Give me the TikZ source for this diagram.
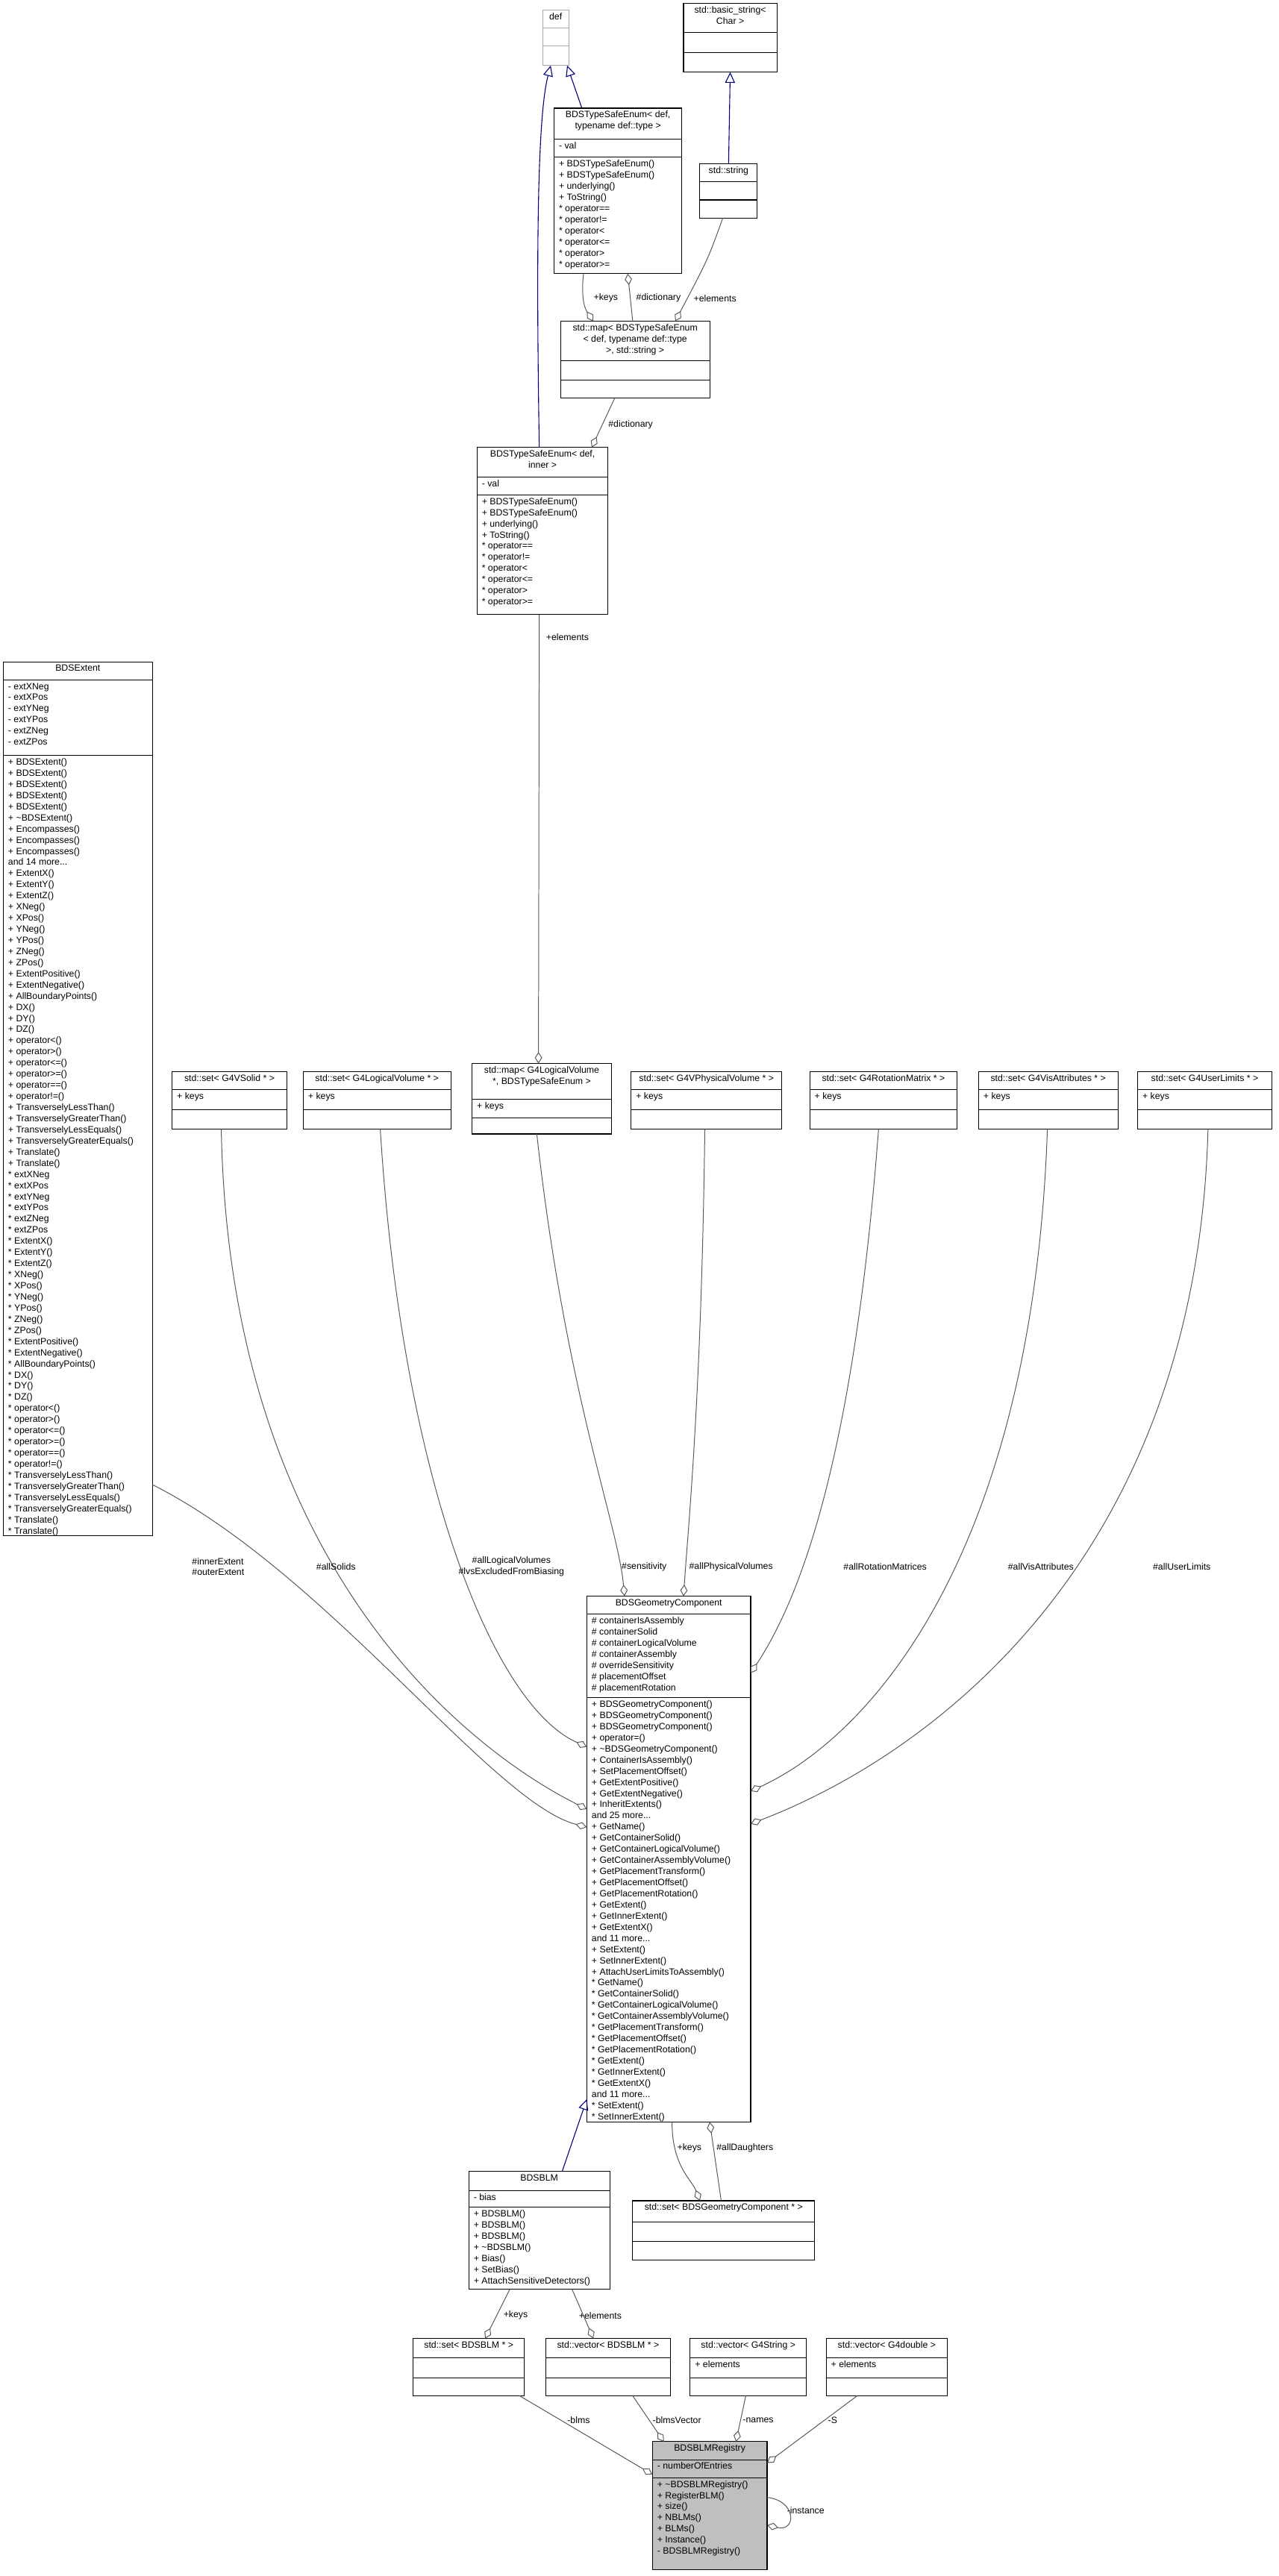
\documentclass[tikz,border=0pt]{standalone}
\usepackage{fontspec}
\setmainfont{Liberation Sans}
\usetikzlibrary{arrows.meta}
\newcommand\bc{black}
\newcommand\classbox[9]{%
 \node[draw=\bc,line width=0.5pt,inner sep=0,outer sep=0,anchor=north west,minimum width={(#3-#2)*1pt},minimum height={(#7-#4)*1pt}] (#1) at (#2,#4) {};
 \draw[draw=\bc,line width=0.5pt] (#2,#5) -- (#3,#5) (#2,#6) -- (#3,#6);
 \node[txt,align=center,anchor=north] (#1-t) at ({(#2+#3)/2},{#4+1.8}) {#8};
 \node[txt,anchor=north west] (#1-a) at ({#2+3},{#5+1.8}) {#9};
 \coordinate (#1-m) at ({#2+3},{#6+1.8});
}
\begin{document}
\begin{tikzpicture}[x=1pt,y=-1pt,
 txt/.style={font=\fontsize{5.6}{6.8}\selectfont,align=left,inner sep=0,outer sep=0},
 lbl/.style={font=\fontsize{5.6}{6.6}\selectfont,inner sep=0,align=center},
 agg/.style={draw=black!65,line width=0.45pt,-{Diamond[open,length=7pt,width=4.5pt]}},
 inh/.style={draw=blue!50!black,line width=0.5pt,-{Triangle[open,length=6.5pt,width=6pt]}}]
\useasboundingbox[fill=white] (0,0) rectangle (780,1572);
% ---- boxes
\renewcommand\bc{black!35}
\classbox{def}{331}{347}{6}{17}{28}{40}{def}{}
\renewcommand\bc{black}
\classbox{bstr}{417}{474}{2}{20}{32}{44}{std::basic\_string\textless\\Char \textgreater}{}
\classbox{tset}{338}{416}{66}{85}{96}{167}{BDSTypeSafeEnum\textless{} def,\\typename def::type \textgreater}{- val}
\node[txt,anchor=north west] at (tset-m) {+ BDSTypeSafeEnum()\\+ BDSTypeSafeEnum()\\+ underlying()\\+ ToString()\\* operator==\\* operator!=\\* operator\textless\\* operator\textless=\\* operator\textgreater\\* operator\textgreater=};
\classbox{sstr}{427}{462}{100}{111}{122}{133}{std::string}{}
\classbox{smap}{342}{433}{196}{220}{232}{243}{std::map\textless{} BDSTypeSafeEnum\\\textless{} def, typename def::type\\\textgreater, std::string \textgreater}{}
\classbox{tinn}{291}{371}{273}{291}{302}{375}{BDSTypeSafeEnum\textless{} def,\\inner \textgreater}{- val}
\node[txt,anchor=north west] at (tinn-m) {+ BDSTypeSafeEnum()\\+ BDSTypeSafeEnum()\\+ underlying()\\+ ToString()\\* operator==\\* operator!=\\* operator\textless\\* operator\textless=\\* operator\textgreater\\* operator\textgreater=};
\classbox{ext}{2}{93}{404}{415}{461}{937}{BDSExtent}{- extXNeg\\- extXPos\\- extYNeg\\- extYPos\\- extZNeg\\- extZPos}
\node[txt,anchor=north west] at (ext-m) {+ BDSExtent()\\+ BDSExtent()\\+ BDSExtent()\\+ BDSExtent()\\+ BDSExtent()\\+ \textasciitilde BDSExtent()\\+ Encompasses()\\+ Encompasses()\\+ Encompasses()\\and 14 more...\\+ ExtentX()\\+ ExtentY()\\+ ExtentZ()\\+ XNeg()\\+ XPos()\\+ YNeg()\\+ YPos()\\+ ZNeg()\\+ ZPos()\\+ ExtentPositive()\\+ ExtentNegative()\\+ AllBoundaryPoints()\\+ DX()\\+ DY()\\+ DZ()\\+ operator\textless()\\+ operator\textgreater()\\+ operator\textless=()\\+ operator\textgreater=()\\+ operator==()\\+ operator!=()\\+ TransverselyLessThan()\\+ TransverselyGreaterThan()\\+ TransverselyLessEquals()\\+ TransverselyGreaterEquals()\\+ Translate()\\+ Translate()\\* extXNeg\\* extXPos\\* extYNeg\\* extYPos\\* extZNeg\\* extZPos\\* ExtentX()\\* ExtentY()\\* ExtentZ()\\* XNeg()\\* XPos()\\* YNeg()\\* YPos()\\* ZNeg()\\* ZPos()\\* ExtentPositive()\\* ExtentNegative()\\* AllBoundaryPoints()\\* DX()\\* DY()\\* DZ()\\* operator\textless()\\* operator\textgreater()\\* operator\textless=()\\* operator\textgreater=()\\* operator==()\\* operator!=()\\* TransverselyLessThan()\\* TransverselyGreaterThan()\\* TransverselyLessEquals()\\* TransverselyGreaterEquals()\\* Translate()\\* Translate()};
\classbox{ssol}{105}{175}{654}{665}{677}{689}{std::set\textless{} G4VSolid * \textgreater}{+ keys}
\classbox{slog}{185}{275}{654}{665}{677}{689}{std::set\textless{} G4LogicalVolume * \textgreater}{+ keys}
\classbox{lmap}{288}{373}{649}{671}{682}{692}{std::map\textless{} G4LogicalVolume\\*, BDSTypeSafeEnum \textgreater}{+ keys}
\classbox{sphy}{385}{477}{654}{665}{677}{689}{std::set\textless{} G4VPhysicalVolume * \textgreater}{+ keys}
\classbox{srot}{494}{584}{654}{665}{677}{689}{std::set\textless{} G4RotationMatrix * \textgreater}{+ keys}
\classbox{svis}{597}{682}{654}{665}{677}{689}{std::set\textless{} G4VisAttributes * \textgreater}{+ keys}
\classbox{sul}{694}{776}{654}{665}{677}{689}{std::set\textless{} G4UserLimits * \textgreater}{+ keys}
\classbox{gc}{358}{458}{974}{985}{1036}{1295}{BDSGeometryComponent}{\# containerIsAssembly\\\# containerSolid\\\# containerLogicalVolume\\\# containerAssembly\\\# overrideSensitivity\\\# placementOffset\\\# placementRotation}
\node[txt,anchor=north west] at (gc-m) {+ BDSGeometryComponent()\\+ BDSGeometryComponent()\\+ BDSGeometryComponent()\\+ operator=()\\+ \textasciitilde BDSGeometryComponent()\\+ ContainerIsAssembly()\\+ SetPlacementOffset()\\+ GetExtentPositive()\\+ GetExtentNegative()\\+ InheritExtents()\\and 25 more...\\+ GetName()\\+ GetContainerSolid()\\+ GetContainerLogicalVolume()\\+ GetContainerAssemblyVolume()\\+ GetPlacementTransform()\\+ GetPlacementOffset()\\+ GetPlacementRotation()\\+ GetExtent()\\+ GetInnerExtent()\\+ GetExtentX()\\and 11 more...\\+ SetExtent()\\+ SetInnerExtent()\\+ AttachUserLimitsToAssembly()\\* GetName()\\* GetContainerSolid()\\* GetContainerLogicalVolume()\\* GetContainerAssemblyVolume()\\* GetPlacementTransform()\\* GetPlacementOffset()\\* GetPlacementRotation()\\* GetExtent()\\* GetInnerExtent()\\* GetExtentX()\\and 11 more...\\* SetExtent()\\* SetInnerExtent()};
\classbox{blm}{286}{372}{1325}{1337}{1347}{1397}{BDSBLM}{- bias}
\node[txt,anchor=north west] at (blm-m) {+ BDSBLM()\\+ BDSBLM()\\+ BDSBLM()\\+ \textasciitilde BDSBLM()\\+ Bias()\\+ SetBias()\\+ AttachSensitiveDetectors()};
\classbox{sgc}{386}{497}{1343}{1356}{1368}{1379}{std::set\textless{} BDSGeometryComponent * \textgreater}{}
\classbox{sblm}{252}{320}{1427}{1439}{1451}{1462}{std::set\textless{} BDSBLM * \textgreater}{}
\classbox{vblm}{333}{409}{1427}{1439}{1451}{1462}{std::vector\textless{} BDSBLM * \textgreater}{}
\classbox{vstr}{421}{492}{1427}{1439}{1451}{1462}{std::vector\textless{} G4String \textgreater}{+ elements}
\classbox{vdbl}{504}{578}{1427}{1439}{1451}{1462}{std::vector\textless{} G4double \textgreater}{+ elements}
\fill[black!25] (398,1490) rectangle (468,1568);
\classbox{reg}{398}{468}{1490}{1501}{1512}{1568}{BDSBLMRegistry}{- numberOfEntries}
\node[txt,anchor=north west] at (reg-m) {+ \textasciitilde BDSBLMRegistry()\\+ RegisterBLM()\\+ size()\\+ NBLMs()\\+ BLMs()\\+ Instance()\\- BDSBLMRegistry()};
% ---- inheritance
\draw[inh] ([xshift=-2pt]tinn.north) .. controls (327,150) and (328,70) .. ([xshift=5pt]def.south west);
\draw[inh] ([xshift=17pt]tset.north west) -- ([xshift=-1pt]def.south east);
\draw[inh] (sstr.north) -- (bstr.south);
\draw[inh] ([xshift=57pt]blm.north west) -- ([yshift=14pt]gc.south west);
% ---- aggregations
\draw[agg] ([xshift=18pt]tset.south west) .. controls (354,185) and (358,190) .. ([xshift=20pt]smap.north west);
\node[lbl,anchor=west] at (362,182) {+keys};
\draw[agg] ([xshift=44pt]smap.north west) -- ([xshift=45pt]tset.south west);
\node[lbl,anchor=west] at (388,182) {\#dictionary};
\draw[agg] ([xshift=14pt]sstr.south west) .. controls (432,158) .. ([xshift=70pt]smap.north west);
\node[lbl,anchor=west] at (423,182) {+elements};
\draw[agg] ([xshift=33pt]smap.south west) -- ([xshift=70pt]tinn.north west);
\node[lbl,anchor=west] at (371,259) {\#dictionary};
\draw[agg] ([xshift=-2pt]tinn.south) -- ([xshift=-2pt]lmap.north);
\node[lbl,anchor=west] at (333,389) {+elements};
\draw[agg] ([yshift=-502pt]ext.north east) .. controls (200,960) and (300,1100) .. ([yshift=-141pt]gc.north west);
\node[lbl,anchor=west,align=left] at (117,956) {\#innerExtent\\\#outerExtent};
\draw[agg] ([xshift=30pt]ssol.south west) .. controls (140,960) and (290,1070) .. ([yshift=-130pt]gc.north west);
\node[lbl] at (205,956) {\#allSolids};
\draw[agg] ([xshift=47pt]slog.south west) .. controls (245,900) and (300,1040) .. ([yshift=-92pt]gc.north west);
\node[lbl] at (312,956) {\#allLogicalVolumes\\\#lvsExcludedFromBiasing};
\draw[agg] ([xshift=-3pt]lmap.south) .. controls (345,850) and (377,930) .. ([xshift=23pt]gc.north west);
\node[lbl] at (393,956) {\#sensitivity};
\draw[agg] ([xshift=45pt]sphy.south west) .. controls (428,850) and (420,930) .. ([xshift=59pt]gc.north west);
\node[lbl] at (446,956) {\#allPhysicalVolumes};
\draw[agg] ([xshift=42pt]srot.south west) .. controls (520,900) and (485,980) .. ([yshift=-47pt]gc.north east);
\node[lbl] at (540,956) {\#allRotationMatrices};
\draw[agg] ([xshift=42pt]svis.south west) .. controls (630,950) and (530,1060) .. ([yshift=-119pt]gc.north east);
\node[lbl] at (635,956) {\#allVisAttributes};
\draw[agg] ([xshift=43pt]sul.south west) .. controls (730,950) and (570,1070) .. ([yshift=-139pt]gc.north east);
\node[lbl] at (721,956) {\#allUserLimits};
\draw[agg] ([xshift=52pt]gc.south west) .. controls (410,1322) and (422,1330) .. ([xshift=41pt]sgc.north west);
\node[lbl,anchor=west] at (413,1311) {+keys};
\draw[agg] ([xshift=54pt]sgc.north west) -- ([xshift=75pt]gc.south west);
\node[lbl,anchor=west] at (437,1311) {\#allDaughters};
\draw[agg] ([xshift=25pt]blm.south west) -- ([xshift=44pt]sblm.north west);
\node[lbl,anchor=west] at (307,1413) {+keys};
\draw[agg] ([xshift=63pt]blm.south west) -- ([xshift=29pt]vblm.north west);
\node[lbl,anchor=west] at (353,1413) {+elements};
\draw[agg] ([xshift=65pt]sblm.south west) -- ([yshift=-20pt]reg.north west);
\node[lbl] at (353,1477) {-blms};
\draw[agg] ([xshift=53pt]vblm.south west) -- ([xshift=7pt]reg.north west);
\node[lbl,anchor=west] at (398,1477) {-blmsVector};
\draw[agg] ([xshift=34pt]vstr.south west) -- ([xshift=51pt]reg.north west);
\node[lbl,anchor=west] at (453,1477) {-names};
\draw[agg] ([xshift=19pt]vdbl.south west) -- ([yshift=-13pt]reg.north east);
\node[lbl,anchor=west] at (505,1477) {-S};
\draw[agg] ([yshift=-34pt]reg.north east) .. controls (486,1526) and (486,1545) .. ([yshift=-51pt]reg.north east);
\node[lbl,anchor=west] at (480,1532) {-instance};
\end{tikzpicture}
\end{document}
